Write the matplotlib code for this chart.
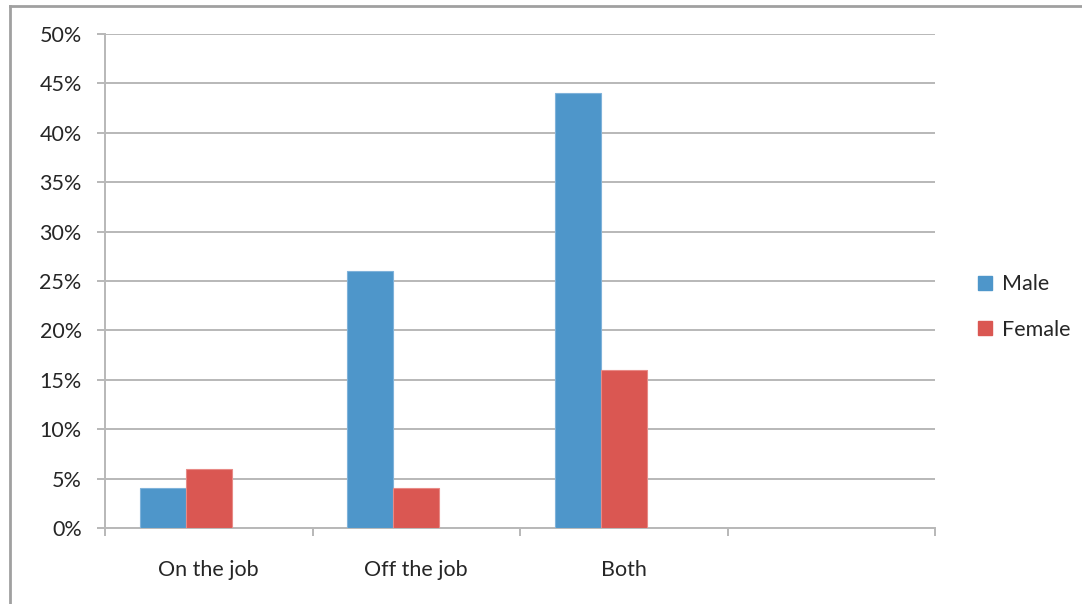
import matplotlib
matplotlib.use("Agg")
import matplotlib.pyplot as plt
from matplotlib.lines import Line2D
from matplotlib.ticker import FuncFormatter, MultipleLocator
import numpy as np

plt.rcParams['font.family'] = ['Lato', 'DejaVu Sans']

categories = ["On the job", "Off the job", "Both", ""]
male = [4, 26, 44]
female = [6, 4, 16]

male_color = "#4E96CA"
female_color = "#DA5752"
grid_color = "#B8B8B8"
text_color = "#262626"

W, H = 1082, 604
fig = plt.figure(figsize=(W / 100, H / 100), dpi=100)
ax = fig.add_axes([105 / W, 1 - 528 / H, (935 - 105) / W, (528 - 34) / H])

n_slots = len(categories)
width = 1 / 4.5
centers = np.arange(len(male)) + 0.5
ax.bar(centers - width, male, width, color=male_color, edgecolor="#7FB2DA",
       linewidth=0.8, label="Male", zorder=3)
ax.bar(centers, female, width, color=female_color, edgecolor="#E88A86",
       linewidth=0.8, label="Female", zorder=3)

ax.set_xlim(0, n_slots)
ax.set_ylim(0, 50)
ax.yaxis.set_major_locator(MultipleLocator(5))
ax.yaxis.set_major_formatter(FuncFormatter(lambda v, p: f"{int(round(v))}%"))
ax.grid(axis="y", color=grid_color, linewidth=1.4, zorder=0)

ax.set_xticks(np.arange(n_slots + 1))
ax.set_xticklabels([])
ax.set_xticks(np.arange(n_slots) + 0.5, minor=True)
ax.set_xticklabels(categories, minor=True)
ax.tick_params(axis="x", which="major", length=5.8, width=1.4, color=grid_color,
               direction="out")
ax.tick_params(axis="x", which="minor", length=0, pad=23, labelsize=15.5,
               labelcolor=text_color)
ax.tick_params(axis="y", length=5.8, width=1.4, color=grid_color, pad=11,
               labelsize=15.5, labelcolor=text_color)

for side in ["top", "right"]:
    ax.spines[side].set_visible(False)
for side in ["left", "bottom"]:
    ax.spines[side].set_color(grid_color)
    ax.spines[side].set_linewidth(1.4)

handles = [Line2D([0], [0], marker="s", linestyle="none", markersize=10,
                  markerfacecolor=male_color, markeredgecolor=male_color),
           Line2D([0], [0], marker="s", linestyle="none", markersize=10,
                  markerfacecolor=female_color, markeredgecolor=female_color)]
fig.legend(handles, ["Male", "Female"], loc="center left",
           bbox_to_anchor=(963 / W, 1 - 307 / H), frameon=False, borderpad=0,
           fontsize=15.5, handletextpad=0.3, labelspacing=1.2,
           labelcolor=text_color, handlelength=1.0)

# chart area frame (left and top edges)
fig.add_artist(Line2D([10 / W, 10 / W], [0, 1 - 6 / H], transform=fig.transFigure,
                      color="#A0A0A0", linewidth=2))
fig.add_artist(Line2D([10 / W, 1], [1 - 6 / H, 1 - 6 / H], transform=fig.transFigure,
                      color="#A0A0A0", linewidth=2))

fig.savefig("out.png", dpi=100)
